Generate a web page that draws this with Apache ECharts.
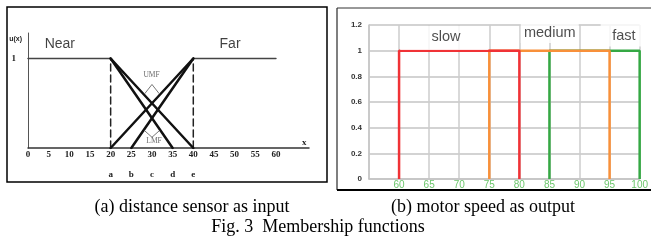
<!DOCTYPE html>
<html><head><meta charset="utf-8">
<script src="https://cdn.jsdelivr.net/npm/echarts@6/dist/echarts.min.js"></script>
<style>html,body{margin:0;padding:0;background:#fff;}#c{width:651px;height:246px;}</style>
</head><body><div id="c"></div>
<script>
// ---- (a) distance sensor as input ----
const leftTicks = [0,5,10,15,20,25,30,35,40,45,50,55,60];
const letterTicks = [20,25,30,35,40];
const letters = ['a','b','c','d','e'];
const nearFlat = [[0,1],[20,1]];
const nearUpper = [[20,1],[40,0]];
const nearLower = [[20,1],[35,0]];
const farFlat = [[40,1],[60,1]];
const farUpper = [[20,0],[40,1]];
const farLower = [[25,0],[40,1]];
const dashA = [[20,0],[20,1]];
const dashE = [[40,0],[40,1]];
const umfMark = [[28.3,0.61],[30,0.71],[31.7,0.61]];
const lmfMark = [[28.3,0.19],[30,0.12],[31.7,0.19]];
const leftLabels = [
  {name:'Near', value:[7.7,1.16]},
  {name:'Far', value:[48.9,1.16]}
];
const smallLabels = [
  {name:'UMF', value:[29.9,0.81]},
  {name:'LMF', value:[30.5,0.08]}
];
// ---- (b) motor speed as output ----
const speedTicks = [60,65,70,75,80,85,90,95,100];
const slow = [[60,0],[60,1],[80,1],[80,0]];
const medium = [[75,0],[75,1],[95,1],[95,0]];
const fast = [[85,0],[85,1],[100,1],[100,0]];
const speedNames = ['slow','medium','fast'];
const speedTextPos = [[67.8,1.107],[85.05,1.138],[97.37,1.114]];
const speedBoxPos = [[67.5,1.099],[85.05,1.157],[97.0,1.145]];
const speedBoxSize = [[88,24],[58,25],[42,29]];

const chart = echarts.init(document.getElementById('c'), null, {renderer:'canvas'});
const serif = 'Liberation Serif, Times New Roman, serif';
const sans = 'Liberation Sans, Arial, sans-serif';

function leftLine(data, color, width, type){
  return {type:'line', xAxisIndex:0, yAxisIndex:0, data:data, symbol:'none', silent:true,
    lineStyle:{color:color, width:width, type:type||'solid', cap:'round'}, animation:false};
}
function rightLine(data, color, z){
  return {type:'line', xAxisIndex:1, yAxisIndex:1, data:data, symbol:'none', silent:true, z:z,
    lineStyle:{color:color, width:2.5}, animation:false};
}

chart.setOption({
  animation:false,
  backgroundColor:'#fff',
  grid:[
    {left:28, top:33, width:281, height:115},
    {left:369, top:25, width:274, height:154}
  ],
  xAxis:[
    {gridIndex:0, type:'value', min:0, max:68, interval:5,
     axisLine:{lineStyle:{color:'#333', width:1.5}}, axisTick:{show:false}, splitLine:{show:false},
     axisLabel:{showMaxLabel:false, margin:2,
       formatter:function(v){
         if (leftTicks.indexOf(v) < 0) return '';
         const i = letterTicks.indexOf(v);
         return i >= 0 ? '{n|'+v+'}\n{l|'+letters[i]+'}' : '{n|'+v+'}';
       },
       rich:{
         n:{fontFamily:serif, fontSize:9, fontWeight:'bold', color:'#222', lineHeight:10},
         l:{fontFamily:serif, fontSize:9, fontWeight:'bold', color:'#222', lineHeight:30}
       }},
     name:'x', nameLocation:'end', nameGap:-7,
     nameTextStyle:{fontFamily:serif, fontSize:9, fontWeight:'bold', color:'#222', verticalAlign:'bottom', padding:[0,0,1,0]}
    },
    {gridIndex:1, type:'value', min:55, max:100, interval:5,
     axisLine:{lineStyle:{color:'#c4c4c4', width:1.5}}, axisTick:{show:false},
     splitLine:{show:true, lineStyle:{color:'#cccccc', width:1.5}},
     axisLabel:{margin:1, color:'#6cc66c', fontSize:10, fontFamily:'Liberation Sans Narrow, Liberation Sans, sans-serif',
       formatter:function(v){ return speedTicks.indexOf(v) >= 0 ? String(v) : ''; }}
    }
  ],
  yAxis:[
    {gridIndex:0, type:'value', min:0, max:1.285, interval:1,
     axisLine:{show:true, lineStyle:{color:'#555', width:1}}, axisTick:{show:false}, splitLine:{show:false},
     axisLabel:{showMaxLabel:false, margin:12, fontFamily:serif, fontSize:9, fontWeight:'bold', color:'#222',
       formatter:function(v){ return v === 1 ? '1' : ''; }},
     name:'u(x)', nameLocation:'end', nameGap:-6,
     nameTextStyle:{fontFamily:sans, fontSize:7, fontWeight:'bold', color:'#222', align:'right', verticalAlign:'middle', padding:[0,6,0,0]}
    },
    {gridIndex:1, type:'value', min:0, max:1.2, interval:0.2,
     axisLine:{show:true, lineStyle:{color:'#c4c4c4', width:1.5}}, axisTick:{show:false},
     splitLine:{show:true, lineStyle:{color:'#c4c4c4', width:1.5}},
     axisLabel:{margin:7, color:'#333', fontSize:8, fontWeight:'bold', fontFamily:sans}
    }
  ],
  series:[
    leftLine(nearFlat, '#444', 1.5),
    leftLine(farFlat, '#444', 1.5),
    leftLine(dashA, '#222', 1.5, [7,4]),
    leftLine(dashE, '#222', 1.5, [7,4]),
    leftLine(nearUpper, '#111', 2.5),
    leftLine(nearLower, '#111', 2.5),
    leftLine(farUpper, '#111', 2.5),
    leftLine(farLower, '#111', 2.5),
    leftLine(umfMark, '#666', 0.9),
    leftLine(lmfMark, '#666', 0.9),
    {type:'scatter', xAxisIndex:0, yAxisIndex:0, data:leftLabels, symbolSize:0, silent:true,
     label:{show:true, position:'inside', formatter:'{b}', fontFamily:sans, fontSize:14, color:'#111'}},
    {type:'scatter', xAxisIndex:0, yAxisIndex:0, data:smallLabels, symbolSize:0, silent:true,
     label:{show:true, position:'inside', formatter:'{b}', fontFamily:serif, fontSize:7.5, color:'#444'}},
    rightLine(fast, '#35a844', 3),
    rightLine(medium, '#f8903a', 4),
    rightLine(slow, '#f03236', 5),
    // white label boxes (cover gridlines behind the series names)
    {type:'scatter', xAxisIndex:1, yAxisIndex:1, symbolSize:0, silent:true, z:6,
     data:speedBoxPos.map(function(p, i){
       return {value:p, label:{width:speedBoxSize[i][0], height:speedBoxSize[i][1]}};
     }),
     label:{show:true, position:'inside', formatter:function(){ return ' '; }, backgroundColor:'#fff',
       align:'center', verticalAlign:'middle', fontSize:1, padding:0}},
    // series names
    {type:'scatter', xAxisIndex:1, yAxisIndex:1, symbolSize:0, silent:true, z:7,
     data:speedTextPos.map(function(p, i){ return {name:speedNames[i], value:p}; }),
     label:{show:true, position:'inside', formatter:'{b}', fontFamily:sans, fontSize:14.5, color:'#222',
       align:'center', verticalAlign:'middle'}}
  ],
  graphic:[
    {type:'rect', shape:{x:7, y:7, width:320, height:175}, style:{fill:null, stroke:'#000', lineWidth:1.5}, silent:true},
    {type:'line', shape:{x1:337, y1:8, x2:337, y2:190}, style:{stroke:'#555', lineWidth:1.5}, silent:true},
    {type:'line', shape:{x1:337, y1:8, x2:651, y2:8}, style:{stroke:'#333', lineWidth:1}, silent:true},
    {type:'line', shape:{x1:337, y1:190, x2:651, y2:190}, style:{stroke:'#000', lineWidth:2}, silent:true},
    {type:'text', x:192, y:207, style:{text:'(a) distance sensor as input', font:'18px '+serif, fill:'#000', textAlign:'center', textVerticalAlign:'middle'}, silent:true},
    {type:'text', x:483, y:207, style:{text:'(b) motor speed as output', font:'18px '+serif, fill:'#000', textAlign:'center', textVerticalAlign:'middle'}, silent:true},
    {type:'text', x:318, y:227, style:{text:'Fig. 3  Membership functions', font:'18px '+serif, fill:'#000', textAlign:'center', textVerticalAlign:'middle'}, silent:true}
  ]
});
</script></body></html>
